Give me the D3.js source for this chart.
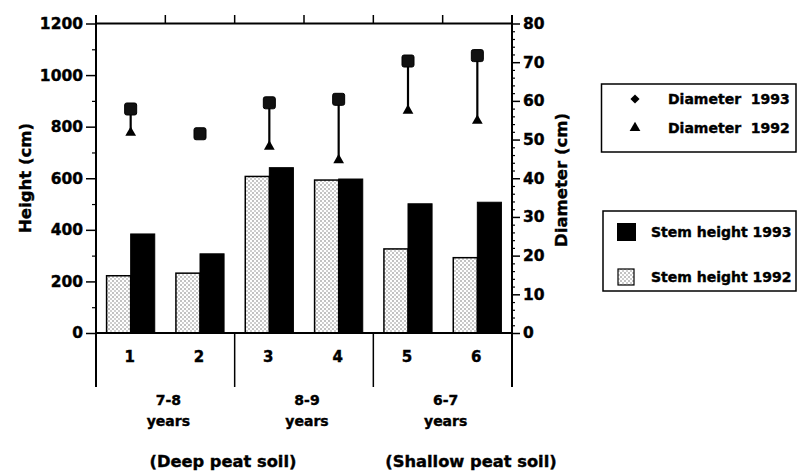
<!DOCTYPE html>
<html>
<head>
<meta charset="utf-8">
<script src="https://cdn.jsdelivr.net/npm/d3@7"></script>
<style>
  html, body { margin: 0; padding: 0; background: #fff; }
  svg { display: block; font-family: "DejaVu Sans", "Liberation Sans", sans-serif; font-weight: bold; }
  svg text { stroke: #000; stroke-width: 0.4px; fill: #000; }
</style>
</head>
<body>
<svg id="chart" width="797" height="471"></svg>
<script>
// ---------- data ----------
const sites = ["1", "2", "3", "4", "5", "6"];
const ageGroups = ["7-8", "8-9", "6-7"];
const soilNotes = ["(Deep peat soil)", "(Shallow peat soil)"];
const stemHeight1992 = [222, 232, 607, 593, 326, 292];
const stemHeight1993 = [384, 307, 641, 597, 501, 507];
const diameter1993 = [57.9, 51.5, 59.5, 60.4, 70.3, 71.7];
const diameter1992 = [51.8, 51.5, 48.2, 44.7, 57.5, 54.9];
const heightTicks = [0, 200, 400, 600, 800, 1000, 1200];
const diameterTicks = [0, 10, 20, 30, 40, 50, 60, 70, 80];
const seriesKeys = ["1992", "1993"];

// ---------- layout ----------
const svg = d3.select("#chart");
const pLeft = 96, pRight = 512, pTop = 23.5, pBottom = 333, catBottom = 387;

const x0 = d3.scaleBand().domain(sites).range([pLeft, pRight]).paddingInner(0).paddingOuter(0);
const x1 = d3.scaleBand().domain(seriesKeys).range([0, x0.bandwidth()]).paddingInner(0).paddingOuter(0.44);
const yH = d3.scaleLinear().domain([0, 1200]).range([pBottom, pTop]);
const yD = d3.scaleLinear().domain([0, 80]).range([pBottom, pTop]);

// pattern for the 1992 bars
const defs = svg.append("defs");
const pat = defs.append("pattern").attr("id", "dots").attr("patternUnits", "userSpaceOnUse")
  .attr("width", 4).attr("height", 4);
pat.append("rect").attr("width", 4).attr("height", 4).attr("fill", "#fff");
pat.append("circle").attr("cx", 1).attr("cy", 1).attr("r", 0.75).attr("fill", "#666");
pat.append("circle").attr("cx", 3).attr("cy", 3).attr("r", 0.75).attr("fill", "#888");

// ---------- bars ----------
const barData = sites.map((s, i) => ({ site: s, v92: stemHeight1992[i], v93: stemHeight1993[i] }));
const g = svg.append("g");
g.selectAll("rect.b92").data(barData).join("rect").attr("class", "b92")
  .attr("x", d => x0(d.site) + x1("1992"))
  .attr("width", x1.bandwidth())
  .attr("y", d => yH(d.v92))
  .attr("height", d => yH(0) - yH(d.v92))
  .attr("fill", "url(#dots)").attr("stroke", "#000").attr("stroke-width", 1.5);
g.selectAll("rect.b93").data(barData).join("rect").attr("class", "b93")
  .attr("x", d => x0(d.site) + x1("1993"))
  .attr("width", x1.bandwidth())
  .attr("y", d => yH(d.v93))
  .attr("height", d => yH(0) - yH(d.v93))
  .attr("fill", "#000").attr("stroke", "#000").attr("stroke-width", 1);

// ---------- axes ----------
const axisG = svg.append("g").attr("stroke", "#000").attr("stroke-width", 2).attr("fill", "none");
// left axis
const leftAxis = d3.axisLeft(yH).tickValues(heightTicks).tickSize(10).tickPadding(3).tickFormat(d3.format("d"));
const la = svg.append("g").attr("transform", `translate(${pLeft},0)`).call(leftAxis);
la.select(".domain").remove();
la.selectAll(".tick line").attr("stroke-width", 1.5);
la.selectAll(".tick text").attr("font-size", 15.5).attr("font-family", "DejaVu Sans").attr("font-weight", "bold");
const leftMinor = d3.axisLeft(yH).tickValues(d3.range(100, 1200, 200)).tickSize(4).tickFormat("");
const lm = svg.append("g").attr("transform", `translate(${pLeft},0)`).call(leftMinor);
lm.select(".domain").remove();
lm.selectAll(".tick line").attr("stroke-width", 1.2);

// right axis
const rightAxis = d3.axisRight(yD).tickValues(diameterTicks).tickSize(8).tickPadding(3).tickFormat(d3.format("d"));
const ra = svg.append("g").attr("transform", `translate(${pRight},0)`).call(rightAxis);
ra.select(".domain").remove();
ra.selectAll(".tick line").attr("stroke-width", 1.5);
ra.selectAll(".tick text").attr("font-size", 15.5).attr("font-family", "DejaVu Sans").attr("font-weight", "bold");
const rightMinor = d3.axisRight(yD).tickValues(d3.range(0, 80, 2).filter(v => v % 10 !== 0)).tickSize(3).tickFormat("");
const rm = svg.append("g").attr("transform", `translate(${pRight},0)`).call(rightMinor);
rm.select(".domain").remove();
rm.selectAll(".tick line").attr("stroke-width", 1.2);

// frame lines
axisG.append("line").attr("x1", pLeft).attr("x2", pLeft).attr("y1", 15).attr("y2", catBottom);
axisG.append("line").attr("x1", pRight).attr("x2", pRight).attr("y1", 15).attr("y2", catBottom);
axisG.append("line").attr("x1", pLeft).attr("x2", pRight).attr("y1", pTop).attr("y2", pTop);
axisG.append("line").attr("x1", pLeft).attr("x2", pRight).attr("y1", pBottom).attr("y2", pBottom);
// top ticks at band boundaries
const boundaries = sites.map(s => x0(s)).concat([pRight]);
axisG.selectAll("line.tt").data(boundaries.slice(1, -1)).join("line").attr("class", "tt")
  .attr("x1", d => d).attr("x2", d => d).attr("y1", 15).attr("y2", pTop).attr("stroke-width", 1.5);
// group separators below axis
const groupBounds = [x0("3"), x0("5")];
axisG.selectAll("line.gs").data(groupBounds).join("line").attr("class", "gs")
  .attr("x1", d => d).attr("x2", d => d).attr("y1", pBottom).attr("y2", catBottom).attr("stroke-width", 1.5);

// category labels
svg.append("g").selectAll("text").data(sites).join("text")
  .attr("x", d => x0(d) + x0.bandwidth() / 2 - 1)
  .attr("y", 357).attr("dy", "0.35em")
  .attr("text-anchor", "middle").attr("font-size", 15).text(d => d);

// age group labels
const groupCenters = [0, 1, 2].map(i => (x0(sites[i * 2]) + x0(sites[i * 2 + 1]) + x0.bandwidth()) / 2 + 3);
const ag = svg.append("g").attr("text-anchor", "middle").attr("font-size", 14);
ag.selectAll("text.age").data(ageGroups).join("text").attr("class", "age")
  .attr("x", (d, i) => groupCenters[i]).attr("y", 400).attr("dy", "0.35em").text(d => d);
ag.selectAll("text.yrs").data(ageGroups).join("text").attr("class", "yrs")
  .attr("x", (d, i) => groupCenters[i]).attr("y", 421).attr("dy", "0.35em").text("years");

// soil notes
const noteX = [223, 471];
svg.append("g").attr("text-anchor", "middle").attr("font-size", 16.3)
  .selectAll("text").data(soilNotes).join("text")
  .attr("x", (d, i) => noteX[i]).attr("y", 461).attr("dy", "0.35em").text(d => d);

// axis titles
svg.append("text").attr("transform", "translate(25,178) rotate(-90)")
  .attr("text-anchor", "middle").attr("dy", "0.35em").attr("font-size", 16.5).text("Height (cm)");
svg.append("text").attr("transform", "translate(561,180) rotate(-90)")
  .attr("text-anchor", "middle").attr("dy", "0.35em").attr("font-size", 16.5).text("Diameter (cm)");

// ---------- diameter markers ----------
const diaData = sites.map((s, i) => ({ site: s, d92: diameter1992[i], d93: diameter1993[i] }));
const cx = d => x0(d.site) + x0.bandwidth() / 2;
const mg = svg.append("g");
mg.selectAll("line").data(diaData).join("line")
  .attr("x1", cx).attr("x2", cx).attr("y1", d => yD(d.d93)).attr("y2", d => yD(d.d92))
  .attr("stroke", "#000").attr("stroke-width", 2.2);
const tri = d3.symbol().type(d3.symbolTriangle).size(50);
mg.selectAll("path.tri").data(diaData).join("path").attr("class", "tri")
  .attr("d", tri).attr("transform", d => `translate(${cx(d)},${yD(d.d92)})`).attr("fill", "#000");
mg.selectAll("rect.sq").data(diaData).join("rect").attr("class", "sq")
  .attr("x", d => cx(d) - 6).attr("y", d => yD(d.d93) - 6)
  .attr("width", 12).attr("height", 12).attr("rx", 2)
  .attr("fill", "#111").attr("stroke", "#000").attr("stroke-width", 1);

// ---------- legends ----------
const lg = svg.append("g");
lg.append("rect").attr("x", 601.5).attr("y", 84).attr("width", 194.5).attr("height", 68)
  .attr("fill", "none").attr("stroke", "#000").attr("stroke-width", 1.5);
lg.append("path").attr("d", d3.symbol().type(d3.symbolSquare).size(42))
  .attr("transform", "translate(635,99) rotate(45)").attr("fill", "#000");
lg.append("path").attr("d", d3.symbol().type(d3.symbolTriangle).size(50))
  .attr("transform", "translate(635,128)").attr("fill", "#000");
lg.append("text").attr("x", 668).attr("y", 99).attr("dy", "0.35em").attr("font-size", 14)
  .style("white-space", "pre").text("Diameter  1993");
lg.append("text").attr("x", 668).attr("y", 128).attr("dy", "0.35em").attr("font-size", 14)
  .style("white-space", "pre").text("Diameter  1992");

lg.append("rect").attr("x", 603).attr("y", 211).attr("width", 193).attr("height", 80)
  .attr("fill", "none").attr("stroke", "#000").attr("stroke-width", 1.5);
lg.append("rect").attr("x", 617).attr("y", 223).attr("width", 19).attr("height", 18).attr("fill", "#000");
lg.append("rect").attr("x", 618).attr("y", 269).attr("width", 16).attr("height", 16)
  .attr("fill", "url(#dots)").attr("stroke", "#000").attr("stroke-width", 1.2);
lg.append("text").attr("x", 651).attr("y", 232).attr("dy", "0.35em").attr("font-size", 14).text("Stem height 1993");
lg.append("text").attr("x", 651).attr("y", 277).attr("dy", "0.35em").attr("font-size", 14).text("Stem height 1992");
</script>
</body>
</html>
